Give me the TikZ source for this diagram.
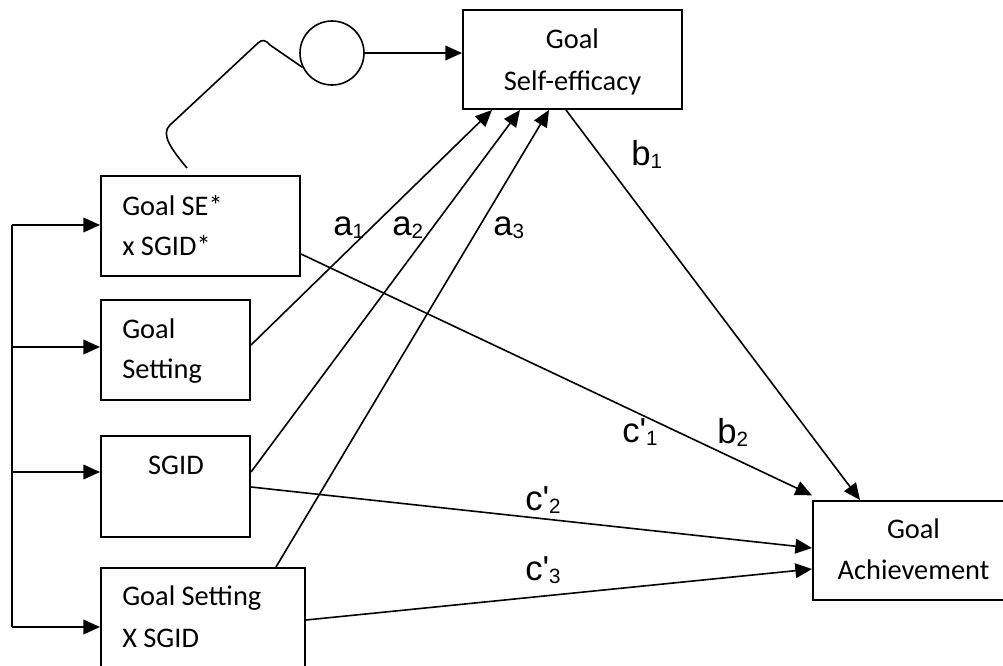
\documentclass[tikz,border=0pt]{standalone}
\usepackage{fontspec}
\setmainfont{Carlito}
\newfontfamily\labfont{Liberation Sans}[Ligatures=TeXOff]
\usetikzlibrary{arrows.meta}
\newcommand{\sublab}[2]{#1\raisebox{-2.6pt}{\fontsize{15.5}{16}\selectfont #2}}
\begin{document}
\begin{tikzpicture}[x=0.75pt,y=-0.75pt,
  box/.style={draw, rectangle, line width=1.5pt, inner sep=0pt},
  txt/.style={font=\fontsize{21.3}{25}\selectfont, inner sep=0pt},
  lbl/.style={font=\labfont\fontsize{26}{30}\selectfont, inner sep=0pt, anchor=base west},
  arr/.style={-{Triangle[length=12.5pt,width=11pt]}, line width=1.2pt},
  ln/.style={line width=1.2pt}]
\useasboundingbox (0,0) rectangle (1003,665);
\clip (0,0) rectangle (1003,665);

% boxes
\node[box, minimum width=164.25pt, minimum height=74.25pt] (gse) at (572.5,59.5) {};
\node[box, minimum width=149.25pt, minimum height=75pt] (int) at (200.5,226) {};
\node[box, minimum width=111.75pt, minimum height=75pt] (gs) at (175.5,350) {};
\node[box, minimum width=111.75pt, minimum height=75.75pt] (sgid) at (175.5,486.5) {};
\node[box, minimum width=153pt, minimum height=99pt] (gsx) at (203,634) {};
\node[box, minimum width=150.75pt, minimum height=74.25pt] (ga) at (913.5,550.5) {};
\node[draw, circle, line width=1.2pt, minimum size=48pt, inner sep=0pt] (med) at (332,53) {};

% box texts
\node[txt, anchor=base] (gseA) at (572.5,48) {Goal};
\node[txt, anchor=base] (gseB) at (572.5,90) {Self-efficacy};
\node[txt, anchor=base west] (intA) at (122,215) {Goal SE*};
\node[txt, anchor=base west] (intB) at (122,255) {x SGID*};
\node[txt, anchor=base west] (gsA) at (122,338) {Goal};
\node[txt, anchor=base west] (gsB) at (122,378) {Setting};
\node[txt, anchor=base] (sgidA) at (176,474) {SGID};
\node[txt, anchor=base west] (gsxA) at (122,605) {Goal Setting};
\node[txt, anchor=base west] (gsxB) at (122,647) {X SGID};
\node[txt, anchor=base] (gaA) at (913.5,538) {Goal};
\node[txt, anchor=base] (gaB) at (913.5,579) {Achievement};

% left bus
\coordinate (busT) at (12,225);
\coordinate (busB) at (12,627);
\coordinate (bus2) at (12,347);
\coordinate (bus3) at (12,472);
\draw[ln] (busT) -- (busB);
\draw[arr] (busT) -- (busT -| int.west);
\draw[arr] (bus2) -- (bus2 -| gs.west);
\draw[arr] (bus3) -- (bus3 -| sgid.west);
\draw[arr] (busB) -- (busB -| gsx.west);

% moderator curve and circle
\coordinate (cs) at (187,168);
\draw[ln] (cs) .. controls (172,150) and (160,134) .. (170,125)
  -- (258,43) .. controls (262,39) and (266,40) .. (270,45) -- (med.206);
\draw[arr] (med.east) -- (med.east -| gse.west);

% a paths
\draw[arr] (gs.east |- 0,345) -- (492,0 |- gse.south);
\draw[arr] (sgid.east |- 0,472) -- (520,0 |- gse.south);
\draw[arr] (276,0 |- gsx.north) -- (549,0 |- gse.south);
% b1
\draw[arr] (566,0 |- gse.south) -- (860,0 |- ga.north);
% c' paths
\draw[arr] (int.east |- 0,254) -- ([yshift=3.5pt]ga.north west);
\draw[arr] (sgid.east |- 0,487) -- (ga.west |- 0,548);
\draw[arr] (gsx.east |- 0,620) -- (ga.west |- 0,569);

% labels
\node[lbl] (la1) at (333,235) {\sublab{a}{1}};
\node[lbl] (la2) at (392,235) {\sublab{a}{2}};
\node[lbl] (la3) at (493,235) {\sublab{a}{3}};
\node[lbl] (lb1) at (631,165) {\sublab{b}{1}};
\node[lbl] (lb2) at (717,443) {\sublab{b}{2}};
\node[lbl] (lc1) at (622,442) {\sublab{c'}{1}};
\node[lbl] (lc2) at (525,510) {\sublab{c'}{2}};
\node[lbl] (lc3) at (525,580) {\sublab{c'}{3}};
\end{tikzpicture}
\end{document}
